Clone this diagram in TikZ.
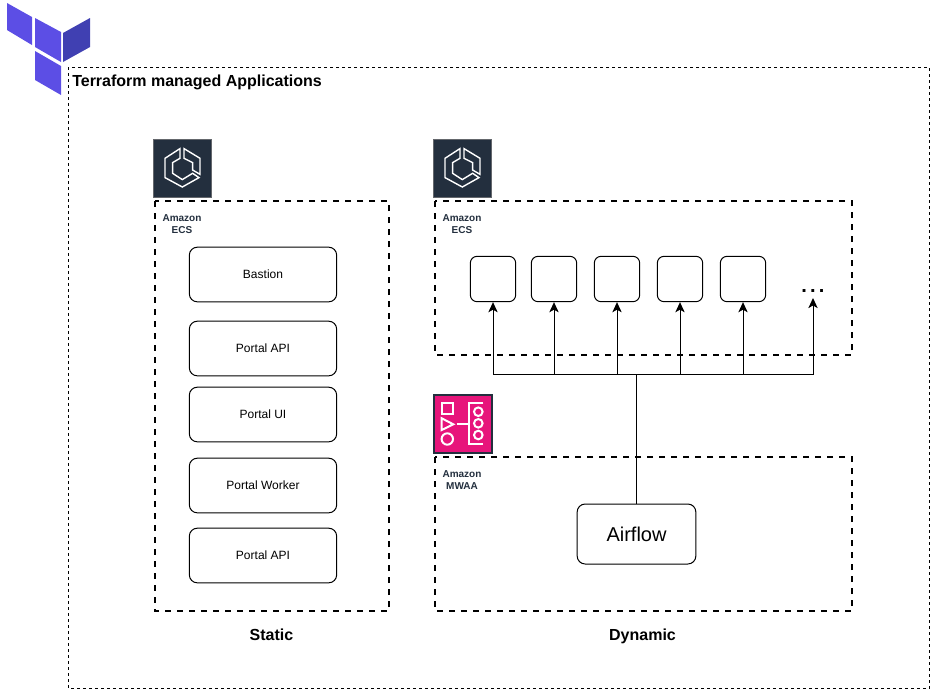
\documentclass[tikz,border=0pt]{standalone}
\usepackage{fontspec}
\setmainfont{Liberation Sans}
\usetikzlibrary{arrows.meta}
\definecolor{tfmain}{HTML}{5C4EE5}
\definecolor{tfdark}{HTML}{4040B2}
\definecolor{awsdark}{HTML}{232F3E}
\definecolor{awspink}{HTML}{E7157B}
\tikzset{
  x=0.75pt,y=-0.75pt,
  px/.style={line width=#1*0.75pt},
  outerbox/.style={draw=black,px=1,dash pattern=on 2.25pt off 2.25pt},
  groupbox/.style={draw=black,px=2,dash pattern=on 4.5pt off 4.5pt},
  service/.style={draw=black,px=1,rounded corners=6pt,fill=white,minimum width=110.5pt,minimum height=41pt,inner sep=0pt,font=\fontsize{9}{11}\selectfont},
  task/.style={draw=black,px=1,rounded corners=5pt,fill=white,minimum width=34pt,minimum height=34pt,inner sep=0pt},
  awslabel/.style={align=center,text=awsdark,inner sep=0pt,font=\fontsize{7.5}{9}\selectfont\bfseries},
  caption/.style={anchor=base,inner sep=0pt,font=\fontsize{12}{14}\selectfont\bfseries},
  link/.style={draw=black,px=1},
  arrowlink/.style={link,-{Stealth[length=7.6pt,width=7pt,inset=2pt]}},
  iconline/.style={draw=white,px=1.4,line join=miter},
  iconbold/.style={draw=white,px=2},
  ecsicon/.pic={
    \path[fill=awsdark,draw=gray!70!awsdark,px=1] (0,0) rectangle (58.4,58.4);
    \draw[iconline] (26.7,9.3) -- (11.7,19) -- (11.7,38.3) -- (29,47.7) -- (45.7,38.3) -- (39.3,34) -- (29,40.3) -- (19.3,34) -- (19.3,23.3) -- (26.7,19) -- cycle;
    \draw[iconline] (30.7,9.3) -- (46.7,19) -- (46.7,35) -- (39.3,30.7) -- (39.3,23.3) -- (30.7,19) -- cycle;
  }
}
\begin{document}
\begin{tikzpicture}
\useasboundingbox (0,0) rectangle (930,689);
% logo
\fill[tfmain] (7,3) -- (32,17) -- (32,45) -- (7,30) -- cycle;
\fill[tfmain] (35,18) -- (61,32) -- (61,62) -- (35,47) -- cycle;
\fill[tfdark] (63,33) -- (90,18) -- (90,47) -- (63,62) -- cycle;
\fill[tfmain] (35,51) -- (61,66) -- (61,95) -- (35,80) -- cycle;
% containers
\draw[outerbox] (68,67) rectangle (929.5,688);
\node[anchor=base west,inner sep=0pt,font=\fontsize{12}{14}\selectfont\bfseries] (title) at (72,86) {Terraform managed Applications};
\draw[groupbox] (155,201) rectangle (389,611);
\draw[groupbox] (435,201) rectangle (852,355);
\draw[groupbox] (435,457) rectangle (852,611);
% icons
\pic at (153.3,139.3) {ecsicon};
\pic at (433.3,139.3) {ecsicon};
\path[fill=awspink,draw=awsdark,px=2] (433.5,394.5) rectangle (491.5,452.5);
\draw[iconbold] (441.7,403.3) rectangle (452.7,414.3);
\draw[iconbold] (441.7,418.3) -- (453.3,424.3) -- (441.7,430) -- cycle;
\draw[iconbold] (447.3,439) circle[radius=5.7];
\draw[iconbold] (456.7,424.3) -- (469,424.3);
\draw[iconbold] (483.3,403.3) -- (469,403.3) -- (469,444.3) -- (483.3,444.3);
\draw[iconbold] (478.3,411.7) circle[radius=4.3];
\draw[iconbold] (478.3,423.3) circle[radius=4.3];
\draw[iconbold] (478.3,435) circle[radius=4.3];
% labels
\node[awslabel] (ecsa) at (182,224) {Amazon\\ECS};
\node[awslabel] (ecsb) at (462,224) {Amazon\\ECS};
\node[awslabel] (mwaa) at (462,480) {Amazon\\MWAA};
\node[caption] (static) at (271.5,640.5) {Static};
\node[caption] (dynamic) at (642.5,640.5) {Dynamic};
% services
\node[service] (bastion) at (263,274.5) {Bastion};
\node[service] (api) at (263,348.5) {Portal API};
\node[service] (ui) at (263,414.5) {Portal UI};
\node[service] (worker) at (263,485.5) {Portal Worker};
\node[service] (apib) at (263,555.5) {Portal API};
% tasks
\node[task] (t1) at (493,279) {};
\node[task] (t2) at (554,279) {};
\node[task] (t3) at (617,279) {};
\node[task] (t4) at (680,279) {};
\node[task] (t5) at (743,279) {};
\node[anchor=base,inner sep=0pt,font=\fontsize{15}{18}\selectfont\bfseries] (dots) at (813,292.5) {.\kern2.4pt.\kern2.4pt.};
\coordinate (dotsin) at (813,298);
% airflow
\node[service,minimum width=89pt,minimum height=45pt,font=\fontsize{15}{18}\selectfont] (airflow) at (636.5,534) {Airflow};
% connectors
\coordinate (bus) at (636.5,374.5);
\draw[link] (airflow.north) -- (bus);
\foreach \t in {t1,t2,t3,t4,t5}{
  \draw[arrowlink] (bus) -| (\t.south);
}
\draw[arrowlink] (bus) -| (dotsin);
\end{tikzpicture}
\end{document}
